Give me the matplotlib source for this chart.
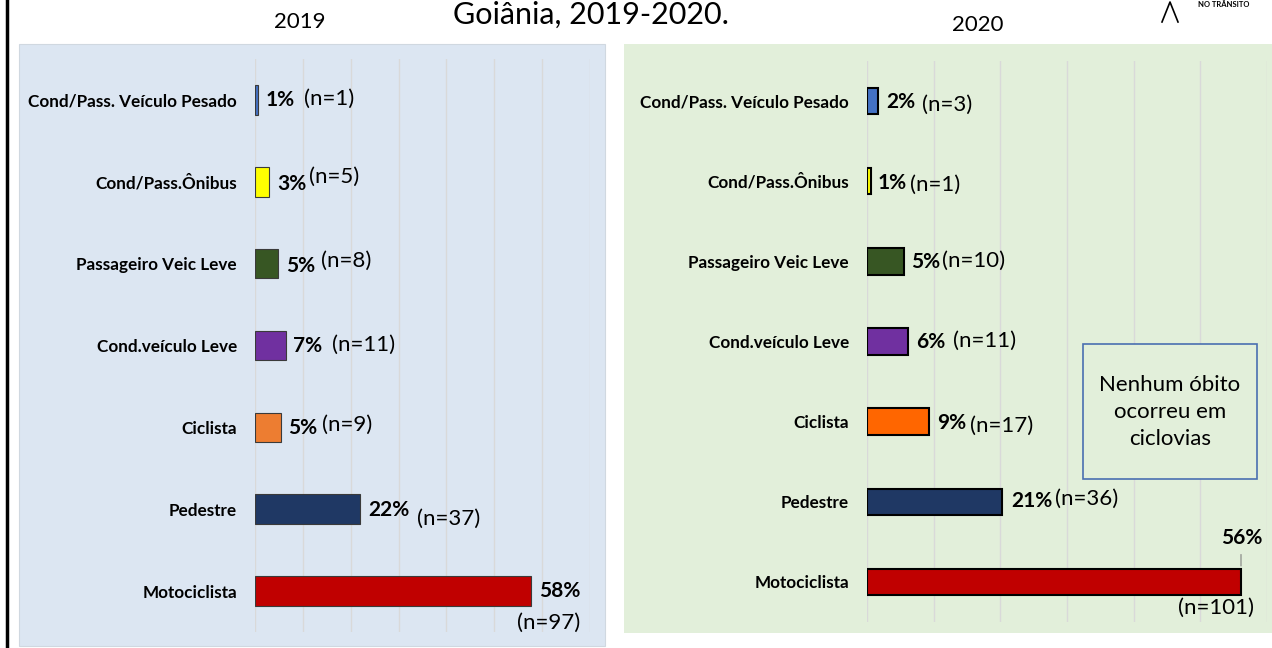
import matplotlib.pyplot as plt
import matplotlib.patches as patches
from matplotlib.lines import Line2D

plt.rcParams['font.family'] = ['Lato', 'DejaVu Sans']

# dados (percentual da barra, n e rótulo mostrado)
categorias = ['Cond/Pass. Veículo Pesado', 'Cond/Pass.Ônibus', 'Passageiro Veic Leve',
              'Cond.veículo Leve', 'Ciclista', 'Pedestre', 'Motociclista']
pct_2019 = [0.6, 3.0, 4.8, 6.5, 5.4, 22.0, 57.7]
n_2019 = [1, 5, 8, 11, 9, 37, 97]
rot_2019 = ['1%', '3%', '5%', '7%', '5%', '22%', '58%']
pct_2020 = [1.7, 0.6, 5.5, 6.1, 9.3, 20.3, 56.1]
n_2020 = [3, 1, 10, 11, 17, 36, 101]
rot_2020 = ['2%', '1%', '5%', '6%', '9%', '21%', '56%']

cores_2019 = ['#4472C4', '#FFFF00', '#375623', '#7030A0', '#ED7D31', '#1F3864', '#C00000']
cores_2020 = ['#4472C4', '#FFFF00', '#375623', '#7030A0', '#FF6600', '#1F3864', '#C00000']

# deslocamentos dos rótulos em pixels (dx, dy para baixo) a partir do fim da barra
desl_pct_2019 = [(8, 0), (8, 2), (8, 2), (7, 0), (7, 1), (8, 1), (8, 0)]
desl_n_2019 = [(46, -1), (40, -5), (43, -3), (46, -1), (41, -2), (57, 10), (49, 32)]
desl_pct_2020 = [(8, 1), (7, 2), (7, 1), (8, 0), (8, 1), (9, -1), (21, -44)]
desl_n_2020 = [(44, 4), (39, 4), (38, 0), (45, -1), (41, 4), (53, -3), (13, 26)]

W, H = 1272, 648
fig = plt.figure(figsize=(W / 100, H / 100), dpi=100)

def fx(px):
    return px / W

def fy(py):
    return 1 - py / H

# fundos dos painéis
fig.patches.append(patches.Rectangle((fx(19), fy(646)), fx(586), (646 - 44) / H,
                                     transform=fig.transFigure, facecolor='#DCE6F2',
                                     edgecolor='#D0D8E0', linewidth=0.8, zorder=-2))
fig.patches.append(patches.Rectangle((fx(624), fy(633)), fx(650), (633 - 44) / H,
                                     transform=fig.transFigure, facecolor='#E2EFDA',
                                     edgecolor='none', zorder=-2))
# linha preta da moldura à esquerda
fig.lines.append(Line2D([fx(7), fx(7)], [0, 1], transform=fig.transFigure,
                        color='black', linewidth=2.5))

def painel(rect, pct, rot, ns, cores, xmax, altura, borda, lw, dpct, dn):
    ax = fig.add_axes(rect)
    ax.set_facecolor('none')
    y = list(range(len(categorias)))
    ax.barh(y, pct, height=altura, color=cores, edgecolor=borda, linewidth=lw, zorder=3)
    ax.set_xlim(0, xmax)
    ax.set_ylim(len(categorias) - 0.5, -0.5)
    ax.set_xticks(range(0, xmax + 1, 10))
    ax.set_xticklabels([])
    ax.tick_params(axis='both', length=0)
    ax.grid(axis='x', color='#D9D9D9', linewidth=1, zorder=0)
    ax.set_yticks(y)
    ax.set_yticklabels(categorias, fontsize=12.3, fontweight='bold')
    ax.tick_params(axis='y', pad=13)
    for s in ax.spines.values():
        s.set_visible(False)
    for i, v in enumerate(pct):
        ult = i == len(pct) - 1
        ha_p = 'right' if (ult and dpct[i][1] < -20) else 'left'
        ax.annotate(rot[i], xy=(v, i), xytext=(dpct[i][0], -dpct[i][1]),
                    textcoords='offset pixels', ha=ha_p, va='center',
                    fontsize=15, fontweight='bold', zorder=5)
        ha_n = 'right' if ult else 'left'
        ax.annotate('(n=%d)' % ns[i], xy=(v, i), xytext=(dn[i][0], -dn[i][1]),
                    textcoords='offset pixels', ha=ha_n, va='center',
                    fontsize=16, zorder=5)
    return ax

ax1 = painel([fx(255), fy(632), fx(335), (632 - 59) / H], pct_2019, rot_2019, n_2019,
             cores_2019, 70, 0.36, '#3A3A3A', 0.8, desl_pct_2019, desl_n_2019)
ax2 = painel([fx(867), fy(622), fx(400), (622 - 61) / H], pct_2020, rot_2020, n_2020,
             cores_2020, 60, 0.33, 'black', 1.5, desl_pct_2020, desl_n_2020)

# linha guia do rótulo 56%
ax2.annotate('', xy=(pct_2020[-1], 6 - 0.165), xytext=(0, 17), textcoords='offset pixels',
             arrowprops=dict(arrowstyle='-', color='#808080', linewidth=0.8))

# caixa de observação
fig.patches.append(patches.Rectangle((fx(1083), fy(479)), fx(174), (479 - 344) / H,
                                     transform=fig.transFigure, facecolor='#E2EFDA',
                                     edgecolor='#4A6FB0', linewidth=1.2, zorder=6))
fig.text(fx(1170), fy(412), 'Nenhum óbito\nocorreu em\nciclovias', ha='center', va='center',
         fontsize=16, linespacing=1.45, zorder=7)

# títulos
fig.text(fx(300), fy(22), '2019', ha='center', va='center', fontsize=16)
fig.text(fx(978), fy(25), '2020', ha='center', va='center', fontsize=16)
fig.text(fx(453), fy(1), 'Goiânia, 2019-2020.', ha='left', va='top', fontsize=22)
fig.text(fx(1198), fy(1), 'NO TRÂNSITO', ha='left', va='top', fontsize=5.5,
         fontweight='bold')
fig.lines.append(Line2D([fx(1162), fx(1170), fx(1178)], [fy(22), fy(2), fy(22)],
                        transform=fig.transFigure, color='black', linewidth=1.2))

fig.savefig('out.png', dpi=100)
